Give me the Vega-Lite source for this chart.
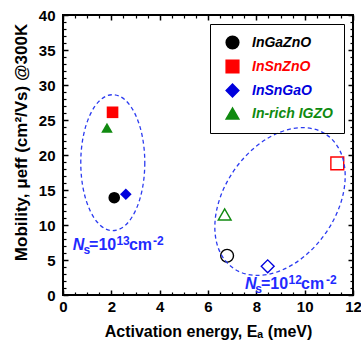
{
  "$schema": "https://vega.github.io/schema/vega-lite/v6.json",
  "width": 290,
  "height": 280,
  "autosize": {"type": "none"},
  "padding": {"left": 63, "top": 15, "right": 8, "bottom": 54},
  "background": "white",
  "config": {
    "view": {"stroke": "black", "strokeWidth": 2},
    "font": "Liberation Sans",
    "axis": {"grid": false, "domain": false, "tickColor": "black", "labelColor": "black", "titleColor": "black"}
  },
  "datasets": {
    "filled": [
      {"series": "InGaZnO", "x": 2.12, "y": 13.9},
      {"series": "InSnZnO", "x": 2.05, "y": 26.1},
      {"series": "InSnGaO", "x": 2.6, "y": 14.4},
      {"series": "In-rich IGZO", "x": 1.82, "y": 23.9}
    ],
    "open": [
      {"series": "InGaZnO", "x": 6.79, "y": 5.6},
      {"series": "InSnZnO", "x": 11.35, "y": 18.8},
      {"series": "InSnGaO", "x": 8.47, "y": 4.1},
      {"series": "In-rich IGZO", "x": 6.69, "y": 11.5}
    ],
    "ellLeft": [{"x": 2.06, "y": 18.9}],
    "ellRight": [{"x": 8.98, "y": 13.35}],
    "annN": [{"x": 0.40, "y": 6.43, "t": "N"}, {"x": 7.53, "y": 0.86, "t": "N"}],
    "annMain": [
      {"x": 1.08, "y": 6.43, "t": "=10"}, {"x": 2.73, "y": 6.43, "t": "cm"},
      {"x": 8.19, "y": 0.86, "t": "=10"}, {"x": 9.85, "y": 0.86, "t": "cm"}
    ],
    "annSmall": [
      {"x": 0.85, "y": 5.86, "t": "s"}, {"x": 2.21, "y": 7.1, "t": "13"}, {"x": 3.72, "y": 7.1, "t": "-2"},
      {"x": 7.96, "y": 0.29, "t": "s"}, {"x": 9.33, "y": 1.53, "t": "12"}, {"x": 10.88, "y": 1.53, "t": "-2"}
    ]
  },
  "resolve": {"axis": {"x": "independent", "y": "independent"}},
  "layer": [
    {
      "data": {"name": "filled"},
      "mark": {"type": "point", "filled": true, "size": 135, "opacity": 1},
      "encoding": {
        "x": {"field": "x", "type": "quantitative", "scale": {"domain": [0, 12], "nice": false},
          "axis": {"orient": "bottom", "values": [0, 2, 4, 6, 8, 10, 12], "tickSize": -5, "tickWidth": 1.5,
            "labelPadding": 9, "labelFontSize": 15, "labelFontWeight": "bold", "labelFlush": false, "labelOverlap": false,
            "title": "Activation energy, Eₐ (meV)", "titleFontSize": 16, "titleFontWeight": "bold", "titleY": 41, "titleBaseline": "alphabetic"}},
        "y": {"field": "y", "type": "quantitative", "scale": {"domain": [0, 40], "nice": false},
          "axis": {"orient": "left", "values": [0, 5, 10, 15, 20, 25, 30, 35, 40], "tickSize": -5, "tickWidth": 1.5,
            "labelPadding": 13, "labelFontSize": 15, "labelFontWeight": "bold", "labelFlush": false, "labelOverlap": false,
            "title": "Mobility, μeff (cm²/Vs) @300K", "titleFontSize": 17, "titleFontWeight": "bold",
            "titleX": -42, "titleY": 127, "titleAngle": 270, "titleAlign": "center", "titleBaseline": "middle"}},
        "color": {"field": "series", "type": "nominal",
          "scale": {"domain": ["InGaZnO", "InSnZnO", "InSnGaO", "In-rich IGZO"], "range": ["#000000", "#ff0000", "#0000dd", "#108a10"]},
          "legend": {"orient": "none", "legendX": 147, "legendY": 9, "title": null, "strokeColor": "black",
            "padding": 11, "rowPadding": 5, "symbolSize": 160, "symbolOffset": 4, "labelOffset": 12,
            "labelFont": "Liberation Sans", "labelFontSize": 14, "labelFontWeight": "bold", "labelFontStyle": "italic",
            "labelColor": {"expr": "scale('color', datum.value)"},
            "encode": {"legend": {"update": {"strokeWidth": {"value": 1.5}}}}}},
        "shape": {"field": "series", "type": "nominal",
          "scale": {"domain": ["InGaZnO", "InSnZnO", "InSnGaO", "In-rich IGZO"], "range": ["circle", "square", "diamond", "triangle-up"]},
          "legend": {"orient": "none", "legendX": 147, "legendY": 9, "title": null, "strokeColor": "black",
            "padding": 11, "rowPadding": 5, "symbolSize": 160, "symbolOffset": 4, "labelOffset": 12,
            "labelFont": "Liberation Sans", "labelFontSize": 14, "labelFontWeight": "bold", "labelFontStyle": "italic",
            "labelColor": {"expr": "scale('color', datum.value)"},
            "encode": {"legend": {"update": {"strokeWidth": {"value": 1.5}}}}}}
      }
    },
    {
      "data": {"name": "open"},
      "mark": {"type": "point", "filled": false, "size": 165, "strokeWidth": 1.4, "opacity": 1},
      "encoding": {
        "x": {"field": "x", "type": "quantitative",
          "axis": {"orient": "top", "values": [0, 2, 4, 6, 8, 10, 12], "tickSize": -5, "tickWidth": 1.5, "labels": false, "title": null}},
        "y": {"field": "y", "type": "quantitative",
          "axis": {"orient": "right", "values": [0, 5, 10, 15, 20, 25, 30, 35, 40], "tickSize": -5, "tickWidth": 1.5, "labels": false, "title": null}},
        "color": {"field": "series", "type": "nominal", "legend": null},
        "shape": {"field": "series", "type": "nominal", "legend": null}
      }
    },
    {
      "data": {"name": "ellLeft"},
      "mark": {"type": "point", "filled": false, "size": 18496, "stroke": "#2b3bf0", "strokeWidth": 1.3, "strokeDash": [4, 3], "opacity": 1,
        "shape": "M 0.4706 0 C 0.4706 0.5523 0.2599 1 0 1 C -0.2599 1 -0.4706 0.5523 -0.4706 0 C -0.4706 -0.5523 -0.2599 -1 0 -1 C 0.2599 -1 0.4706 -0.5523 0.4706 0 Z"},
      "encoding": {
        "x": {"field": "x", "type": "quantitative",
          "axis": {"orient": "bottom", "values": [0.5, 1, 1.5, 2.5, 3, 3.5, 4.5, 5, 5.5, 6.5, 7, 7.5, 8.5, 9, 9.5, 10.5, 11, 11.5], "tickSize": -3, "tickWidth": 1.2, "labels": false, "title": null}},
        "y": {"field": "y", "type": "quantitative",
          "axis": {"orient": "left", "values": [1, 2, 3, 4, 6, 7, 8, 9, 11, 12, 13, 14, 16, 17, 18, 19, 21, 22, 23, 24, 26, 27, 28, 29, 31, 32, 33, 34, 36, 37, 38, 39], "tickSize": -3, "tickWidth": 1.2, "labels": false, "title": null}}
      }
    },
    {
      "data": {"name": "ellRight"},
      "mark": {"type": "point", "filled": false, "size": 26500, "stroke": "#2b3bf0", "strokeWidth": 1.3, "strokeDash": [4, 3], "opacity": 1,
        "shape": "M 0.5736 -0.8192 C 0.8822 -0.6031 0.8755 -0.0612 0.5587 0.3912 C 0.2419 0.8436 -0.2650 1.0353 -0.5736 0.8192 C -0.8822 0.6031 -0.8755 0.0612 -0.5587 -0.3912 C -0.2419 -0.8436 0.2650 -1.0353 0.5736 -0.8192 Z"},
      "encoding": {
        "x": {"field": "x", "type": "quantitative",
          "axis": {"orient": "top", "values": [0.5, 1, 1.5, 2.5, 3, 3.5, 4.5, 5, 5.5, 6.5, 7, 7.5, 8.5, 9, 9.5, 10.5, 11, 11.5], "tickSize": -3, "tickWidth": 1.2, "labels": false, "title": null}},
        "y": {"field": "y", "type": "quantitative",
          "axis": {"orient": "right", "values": [1, 2, 3, 4, 6, 7, 8, 9, 11, 12, 13, 14, 16, 17, 18, 19, 21, 22, 23, 24, 26, 27, 28, 29, 31, 32, 33, 34, 36, 37, 38, 39], "tickSize": -3, "tickWidth": 1.2, "labels": false, "title": null}}
      }
    },
    {
      "data": {"name": "annN"},
      "mark": {"type": "text", "align": "left", "baseline": "alphabetic", "font": "Liberation Sans", "fontSize": 16, "fontWeight": "bold", "fontStyle": "italic", "color": "#1f2bff"},
      "encoding": {
        "x": {"field": "x", "type": "quantitative", "axis": null},
        "y": {"field": "y", "type": "quantitative", "axis": null},
        "text": {"field": "t"}
      }
    },
    {
      "data": {"name": "annMain"},
      "mark": {"type": "text", "align": "left", "baseline": "alphabetic", "font": "Liberation Sans", "fontSize": 16, "fontWeight": "bold", "color": "#1f2bff"},
      "encoding": {
        "x": {"field": "x", "type": "quantitative", "axis": null},
        "y": {"field": "y", "type": "quantitative", "axis": null},
        "text": {"field": "t"}
      }
    },
    {
      "data": {"name": "annSmall"},
      "mark": {"type": "text", "align": "left", "baseline": "alphabetic", "font": "Liberation Sans", "fontSize": 12, "fontWeight": "bold", "color": "#1f2bff"},
      "encoding": {
        "x": {"field": "x", "type": "quantitative", "axis": null},
        "y": {"field": "y", "type": "quantitative", "axis": null},
        "text": {"field": "t"}
      }
    }
  ]
}
